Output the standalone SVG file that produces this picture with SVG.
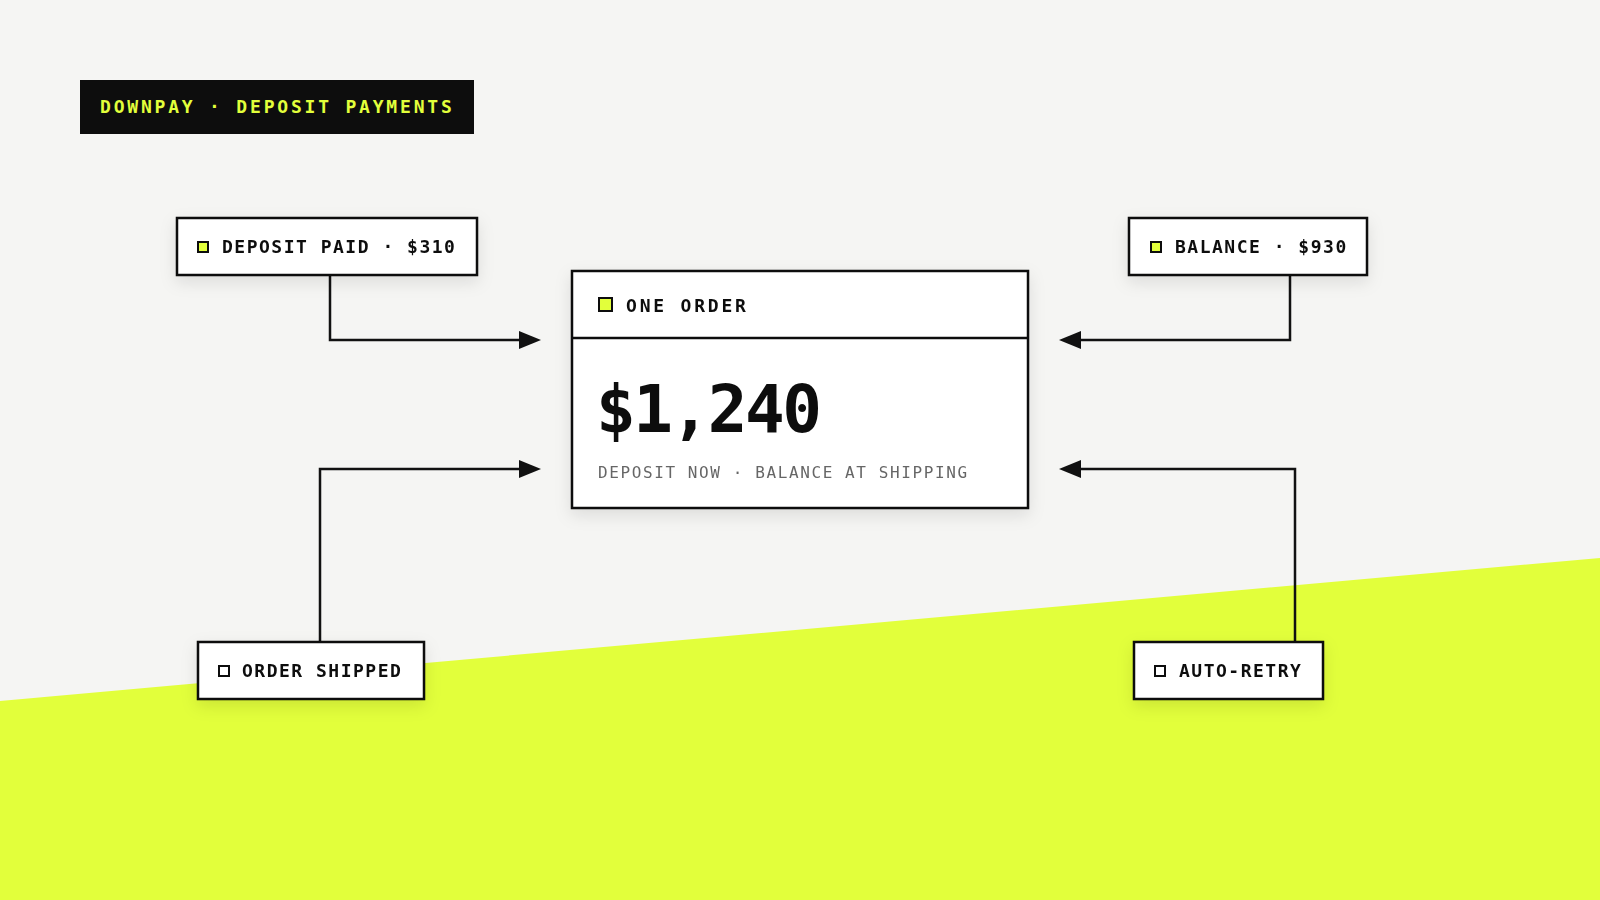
<svg xmlns="http://www.w3.org/2000/svg" width="1600" height="900" viewBox="0 0 1600 900">
  <defs>
    <filter id="shadow" x="-20%" y="-20%" width="140%" height="160%">
      <feDropShadow dx="0" dy="6" stdDeviation="8" flood-color="#000" flood-opacity="0.10"/>
    </filter>
    <marker id="arrow" markerUnits="userSpaceOnUse" markerWidth="22" markerHeight="18" viewBox="0 0 22 18" refX="0" refY="9" orient="auto">
      <path d="M0 0 L22 9 L0 18 Z" fill="#111"/>
    </marker>
    <style>
      .mono { font-family: "DejaVu Sans Mono", "Liberation Mono", monospace; }
      .box { fill: #ffffff; stroke: #111111; stroke-width: 2.5; }
      .lbl { font-size: 18px; font-weight: bold; fill: #111111; letter-spacing: 1.5px; }
      .sq-on { fill: #e2ff3b; stroke: #111111; stroke-width: 2; }
      .sq-off { fill: #ffffff; stroke: #111111; stroke-width: 2; }
      .conn { fill: none; stroke: #111111; stroke-width: 2.5; stroke-linejoin: miter; marker-end: url(#arrow); }
    </style>
  </defs>

  <rect x="0" y="0" width="1600" height="900" fill="#f5f5f3"/>
  <polygon points="0,701 1600,558 1600,900 0,900" fill="#e2ff3b"/>

  <g id="title">
    <rect x="80" y="80" width="394" height="54" fill="#0d0d0d"/>
    <text class="mono" x="100" y="113" font-size="18" font-weight="bold" fill="#e2ff3b" letter-spacing="2.8">DOWNPAY · DEPOSIT PAYMENTS</text>
  </g>

  <g id="connectors">
    <path class="conn" d="M330 276 V340 H519"/>
    <path class="conn" d="M1290 276 V340 H1081"/>
    <path class="conn" d="M320 641 V469 H519"/>
    <path class="conn" d="M1295 641 V469 H1081"/>
  </g>

  <g id="deposit-paid" filter="url(#shadow)">
    <rect class="box" x="177" y="218" width="300" height="57"/>
    <rect class="sq-on" x="198" y="242" width="10" height="10"/>
    <text class="mono lbl" x="222" y="253">DEPOSIT PAID · $310</text>
  </g>

  <g id="balance" filter="url(#shadow)">
    <rect class="box" x="1129" y="218" width="238" height="57"/>
    <rect class="sq-on" x="1151" y="242" width="10" height="10"/>
    <text class="mono lbl" x="1175" y="253">BALANCE · $930</text>
  </g>

  <g id="order-shipped" filter="url(#shadow)">
    <rect class="box" x="198" y="642" width="226" height="57"/>
    <rect class="sq-off" x="219" y="666" width="10" height="10"/>
    <text class="mono lbl" x="242" y="677">ORDER SHIPPED</text>
  </g>

  <g id="auto-retry" filter="url(#shadow)">
    <rect class="box" x="1134" y="642" width="189" height="57"/>
    <rect class="sq-off" x="1155" y="666" width="10" height="10"/>
    <text class="mono lbl" x="1179" y="677">AUTO-RETRY</text>
  </g>

  <g id="one-order" filter="url(#shadow)">
    <rect class="box" x="572" y="271" width="456" height="237"/>
    <line x1="572" y1="338" x2="1028" y2="338" stroke="#111111" stroke-width="2.5"/>
    <rect class="sq-on" x="599" y="298" width="13" height="13"/>
    <text class="mono" x="626" y="312" font-size="18" font-weight="bold" fill="#111111" letter-spacing="2.8">ONE ORDER</text>
    <text class="mono" x="596" y="432" font-size="66" font-weight="bold" fill="#111111" letter-spacing="-2.5">$1,240</text>
    <text class="mono" x="598" y="478" font-size="16" fill="#666666" letter-spacing="1.6">DEPOSIT NOW · BALANCE AT SHIPPING</text>
  </g>
</svg>
